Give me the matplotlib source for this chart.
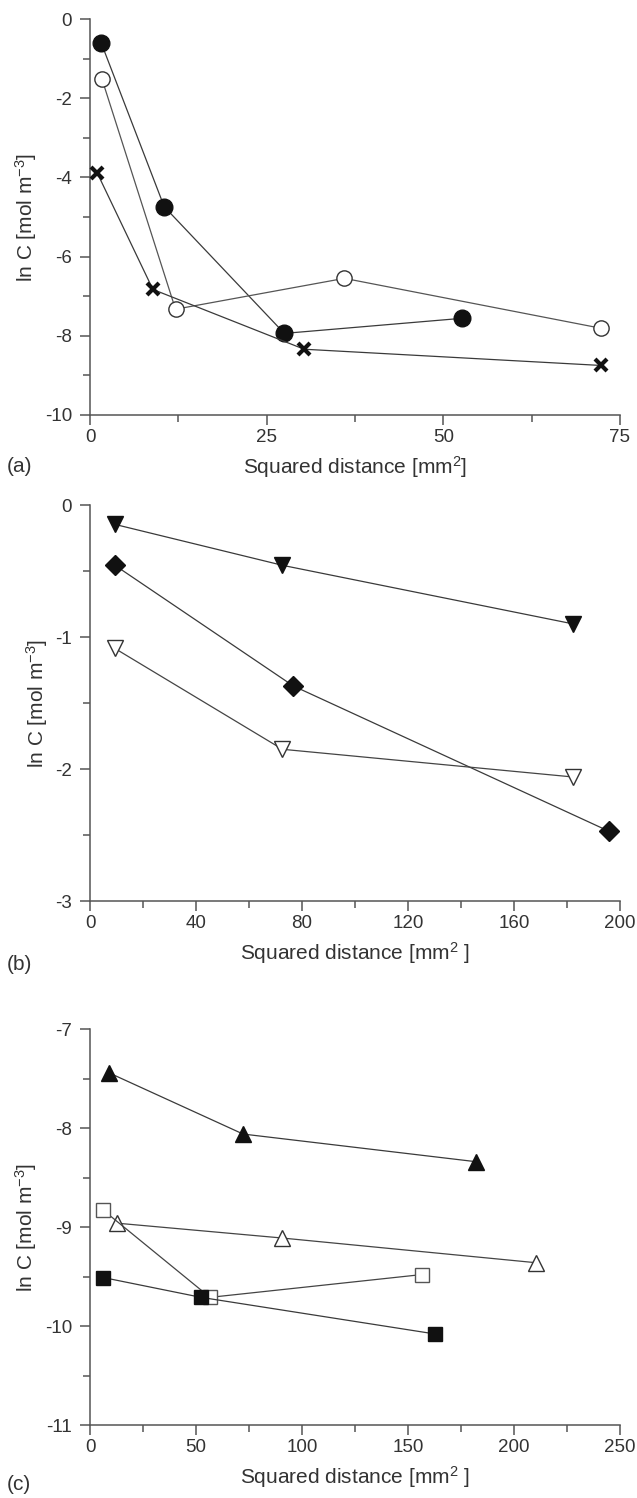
import matplotlib
matplotlib.use("Agg")
import matplotlib.pyplot as plt
from matplotlib.ticker import MultipleLocator

plt.rcParams['font.family'] = ['Liberation Sans', 'DejaVu Sans']
plt.rcParams['mathtext.default'] = 'regular'
plt.rcParams['axes.unicode_minus'] = False

# panel (a)
a_fill_x = [1.6, 10.5, 27.5, 52.6]
a_fill_y = [-0.61, -4.74, -7.94, -7.56]
a_open_x = [1.7, 12.1, 36.0, 72.3]
a_open_y = [-1.52, -7.33, -6.55, -7.81]
a_cross_x = [1.0, 8.9, 30.3, 72.3]
a_cross_y = [-3.88, -6.83, -8.34, -8.75]

# panel (b)
b_tri_x = [9.4, 72.6, 182.3]
b_tri_y = [-0.146, -0.456, -0.90]
b_dia_x = [9.4, 76.7, 195.7]
b_dia_y = [-0.456, -1.37, -2.47]
b_otri_x = [9.4, 72.6, 182.3]
b_otri_y = [-1.086, -1.85, -2.06]

# panel (c)
c_tri_x = [8.8, 72.2, 182.3]
c_tri_y = [-7.44, -8.06, -8.34]
c_otri_x = [12.5, 90.4, 210.4]
c_otri_y = [-8.96, -9.11, -9.36]
c_osq_x = [6.3, 56.6, 156.4]
c_osq_y = [-8.83, -9.71, -9.48]
c_sq_x = [6.3, 52.4, 162.8]
c_sq_y = [-9.51, -9.71, -10.08]

fig = plt.figure(figsize=(6.37, 14.98), dpi=100)
left, width, height = 0.1413, 0.832, 0.2643
axa = fig.add_axes([left, 0.7230, width, height])
axb = fig.add_axes([left, 0.3985, width, height])
axc = fig.add_axes([left, 0.0487, width, height])

lc = '#3a3a3a'
mk = '#111111'
tc = '#333333'
lw = 0.9


def style(ax, xlim, ylim, xmaj, ymaj, xlabel, tag, tag_y):
    ax.set_xlim(*xlim)
    ax.set_ylim(*ylim)
    ax.xaxis.set_major_locator(MultipleLocator(xmaj))
    ax.xaxis.set_minor_locator(MultipleLocator(xmaj / 2))
    ax.yaxis.set_major_locator(MultipleLocator(ymaj))
    ax.yaxis.set_minor_locator(MultipleLocator(ymaj / 2))
    for s in ['top', 'right']:
        ax.spines[s].set_visible(False)
    for s in ['left', 'bottom']:
        ax.spines[s].set_color('#555555')
        ax.spines[s].set_linewidth(1.1)
    ax.tick_params(which='major', direction='out', length=7, width=1.1,
                   color='#555555', labelsize=13.5, labelcolor=tc)
    ax.tick_params(axis='y', which='major', pad=6)
    ax.tick_params(axis='x', which='major', pad=3)
    ax.tick_params(which='minor', direction='out', length=5, width=1.1,
                   color='#555555')
    ax.set_xlabel(xlabel, fontsize=15, color=tc, labelpad=6)
    ax.set_ylabel('ln C [mol m$^{-3}$]', fontsize=15, color=tc, labelpad=4)
    fig.text(0.011, tag_y, tag, fontsize=15, color=tc, va='center')


# (a)
axa.plot(a_fill_x, a_fill_y, '-', color=lc, lw=lw, marker='o', ms=12,
         mfc=mk, mec=mk, zorder=3)
axa.plot(a_open_x, a_open_y, '-', color='#555555', lw=lw, marker='o', ms=11,
         mfc='white', mec=tc, mew=1.0, zorder=3)
axa.plot(a_cross_x, a_cross_y, '-', color=lc, lw=lw, marker='x', ms=9,
         mec=mk, mew=3.0, zorder=4)
style(axa, (0, 75), (-10, 0), 25, 2, 'Squared distance [mm$^2$]', '(a)', 1 - 467 / 1498)
axa.yaxis.set_minor_locator(MultipleLocator(1))

# (b)
axb.plot(b_tri_x, b_tri_y, '-', color=lc, lw=lw, marker='v', ms=11,
         mfc=mk, mec=mk, zorder=3)
axb.plot(b_dia_x, b_dia_y, '-', color=lc, lw=lw, marker='D', ms=10,
         mfc=mk, mec=mk, zorder=3)
axb.plot(b_otri_x, b_otri_y, '-', color='#444444', lw=lw, marker='v', ms=11,
         mfc='white', mec=tc, mew=1.0, zorder=3)
style(axb, (0, 200), (-3, 0), 40, 1, 'Squared distance [mm$^2$ ]', '(b)', 1 - 965 / 1498)

# (c)
axc.plot(c_tri_x, c_tri_y, '-', color=lc, lw=lw, marker='^', ms=11,
         mfc=mk, mec=mk, zorder=3)
axc.plot(c_otri_x, c_otri_y, '-', color='#444444', lw=lw, marker='^', ms=11,
         mfc='white', mec=tc, mew=1.0, zorder=3)
axc.plot(c_osq_x, c_osq_y, '-', color='#444444', lw=lw, marker='s', ms=10,
         mfc='white', mec='#555555', mew=1.0, zorder=3)
axc.plot(c_sq_x, c_sq_y, '-', color=lc, lw=lw, marker='s', ms=10,
         mfc=mk, mec=mk, zorder=4)
style(axc, (0, 250), (-11, -7), 50, 1, 'Squared distance [mm$^2$ ]', '(c)', 1 - 1484 / 1498)

for ax in (axa, axb, axc):
    for l in ax.lines:
        l.set_clip_on(False)

fig.savefig('out.png', dpi=100)
